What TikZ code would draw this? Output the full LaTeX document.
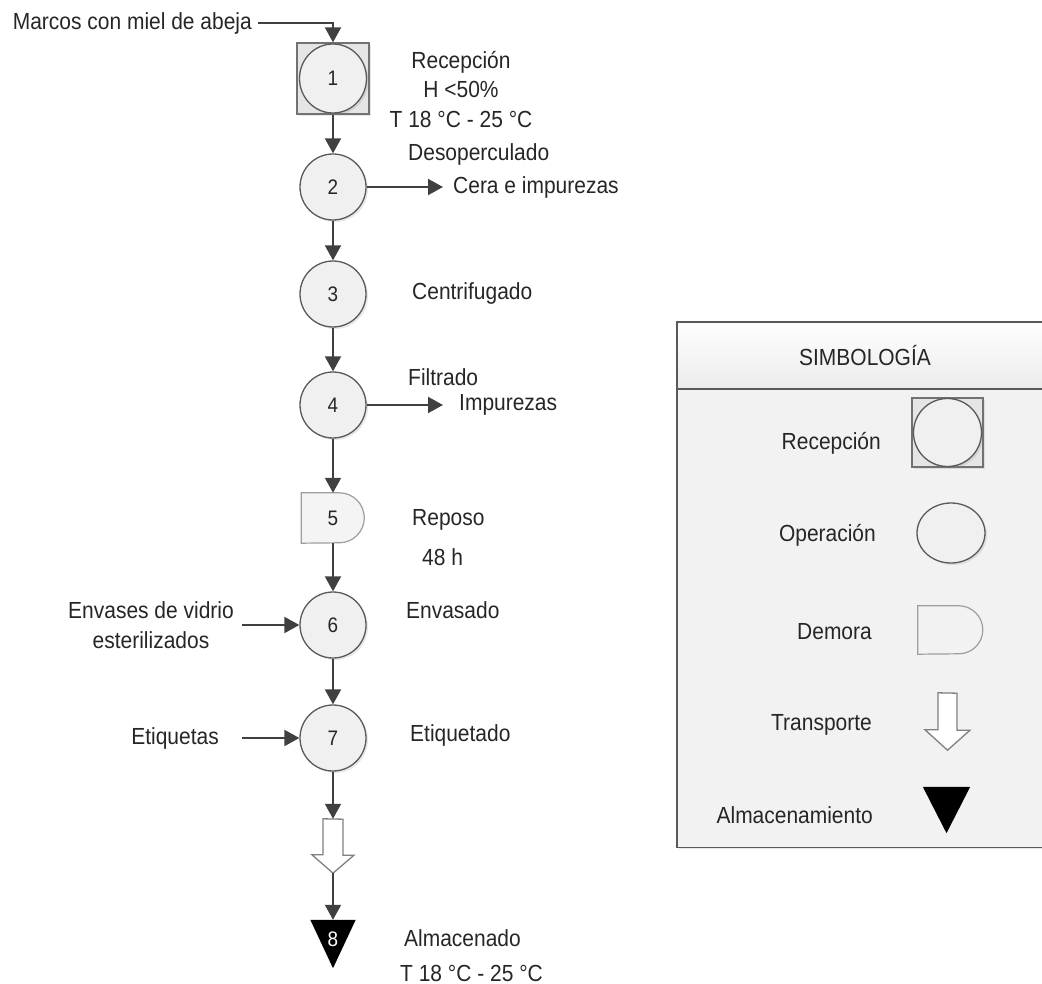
\documentclass[tikz,border=0pt]{standalone}
\usepackage{fontspec}
\setmainfont{Liberation Sans}[FakeStretch=0.9]
\usetikzlibrary{arrows.meta,shadows,shapes.geometric}
\definecolor{lc}{HTML}{404040}
\definecolor{cfill}{HTML}{F0F0F0}
\definecolor{cdraw}{HTML}{595959}
\definecolor{legbg}{HTML}{F2F2F2}
\definecolor{txt}{HTML}{262626}
\begin{document}
\begin{tikzpicture}[x=1pt,y=-1pt,
  every node/.style={font=\fontsize{23.3}{29.5}\selectfont, text=txt},
  txtn/.style={inner sep=0pt, align=center},
  numlbl/.style={inner sep=0pt, font=\fontsize{21}{24}\selectfont},
  softshadow/.style={drop shadow={shadow xshift=2pt, shadow yshift=-2pt, opacity=0.18}},
  op/.style={ellipse, draw=cdraw, line width=1.3pt, fill=cfill, minimum width=66pt, minimum height=66pt, inner sep=0pt, font=\fontsize{21}{24}\selectfont, softshadow},
  recbox/.style={rectangle, draw=cdraw!85, line width=1.3pt, fill=black!10, minimum width=72pt, minimum height=71pt, inner sep=0pt, softshadow},
  conn/.style={draw=lc, line width=2pt, -{Triangle[length=15pt,width=16pt]}},
  ghost/.style={rectangle, inner sep=0pt, draw=none, fill=none},
  demora/.style={draw=black!38, line width=1.2pt},
  transp/.style={draw=black!50, line width=1.3pt, fill=white},
  frame/.style={draw=cdraw, line width=1.3pt},
]
\useasboundingbox (0,0) rectangle (1042,984);

% ---------------- legend ----------------
\node[rectangle, fill=legbg, minimum width=390pt, minimum height=525pt, anchor=north west, inner sep=0pt, softshadow] (leg) at (677,322) {};
\coordinate (hsep) at (1067,389);
\shade[top color=white, bottom color=black!8] (leg.north west) rectangle (hsep);
\draw[frame] (leg.north east) -- (leg.north west) -- (leg.south west) -- (leg.south east);
\draw[frame] (leg.west |- hsep) -- (hsep);
\node[txtn] (legt) at (865,356) {SIMBOLOG\'IA};

\node[txtn, anchor=east] (lr) at (881,443) {Recepción};
\node[recbox, minimum width=71pt, minimum height=69pt] (lrs) at (947.5,432.5) {};
\node[op, minimum width=68pt, minimum height=68pt] (lrc) at (lrs) {};

\node[txtn, anchor=east] (lo) at (876,535) {Operación};
\node[op, minimum width=68pt, minimum height=60pt] (loc) at (951,533) {};

\node[txtn, anchor=east] (ld) at (872,632) {Demora};
\node[ghost, minimum width=65pt, minimum height=48pt] (lds) at (950.5,630) {};
\draw[demora] (lds.north west) -- ++(41,0) arc[start angle=-90,end angle=90,radius=24] -- (lds.south west) -- cycle;

\node[txtn, anchor=east] (lt) at (872,725) {Transporte};
\node[ghost, minimum width=45pt, minimum height=57pt] (lts) at (947.5,721.5) {};
\draw[transp] (lts.north) ++(-9.5,0) -- ++(0,37) -- ++(-13,0) -- (lts.south) -- ++(22.5,-20) -- ++(-13,0) -- ++(0,-37) -- cycle;

\node[txtn, anchor=east] (la) at (873,815) {Almacenamiento};
\node[ghost, minimum width=47pt, minimum height=46pt] (las) at (946.5,810) {};
\fill[black] (las.north west) -- (las.north east) -- (las.south) -- cycle;

% ---------------- process ----------------
\node[txtn, anchor=east] (marcos) at (252,23) {Marcos con miel de abeja};

\node[recbox] (s1) at (333,78.5) {};
\node[op, minimum width=67pt, minimum height=69pt] (n1) at (s1) {1};
\node[op] (n2) at (333,187) {2};
\node[op] (n3) at (333,294) {3};
\node[op] (n4) at (333,405) {4};

\node[ghost, minimum width=63pt, minimum height=50pt] (n5) at (333,518) {};
\draw[demora, fill=cfill!70!white] (n5.north west) -- ++(38,0) arc[start angle=-90,end angle=90,radius=25] -- (n5.south west) -- cycle;
\node[numlbl] (n5t) at (n5) {5};

\node[op] (n6) at (333,625) {6};
\node[op] (n7) at (333,738) {7};

\node[ghost, minimum width=42pt, minimum height=54pt] (tr) at (333,846) {};
\draw[transp] (tr.north) ++(-10,0) -- ++(0,36) -- ++(-11,0) -- (tr.south) -- ++(21,-18) -- ++(-11,0) -- ++(0,-36) -- cycle;

\node[ghost, minimum width=45pt, minimum height=48pt] (n8) at (333,944) {};
\fill[black] (n8.north west) -- (n8.north east) -- (n8.south) -- cycle;
\node[numlbl, text=white] (n8t) at (333,939) {8};

% texts
\node[txtn] (t1) at (461,89.5) {Recepción\\H <50\%\\T 18 °C - 25 °C};
\node[txtn, anchor=west] (t2) at (408,154) {Desoperculado};
\node[txtn, anchor=west] (cera) at (453,187) {Cera e impurezas};
\node[txtn, anchor=west] (t3) at (412,293) {Centrifugado};
\node[txtn, anchor=west] (t4) at (408,377) {Filtrado};
\node[txtn, anchor=west] (imp) at (459,405) {Impurezas};
\node[txtn, anchor=west] (t5a) at (412,520) {Reposo};
\node[txtn, anchor=west] (t5b) at (422,557) {48 h};
\node[txtn, anchor=west] (t6) at (406,610) {Envasado};
\node[txtn] (env) at (151,625) {Envases de vidrio\\esterilizados};
\node[txtn, anchor=east] (etq) at (219,738) {Etiquetas};
\node[txtn, anchor=west] (t7) at (410,735) {Etiquetado};
\node[txtn, anchor=west] (t8a) at (404,938) {Almacenado};
\node[txtn, anchor=west] (t8b) at (400,973) {T 18 °C - 25 °C};

% connectors
\draw[conn] (marcos.east) ++(6,0) -| (s1.north);
\draw[conn] (s1.south) -- (n2.north);
\draw[conn] (n2.south) -- (n3.north);
\draw[conn] (n3.south) -- (n4.north);
\draw[conn] (n4.south) -- (n5.north);
\draw[conn] (n5.south) -- (n6.north);
\draw[conn] (n6.south) -- (n7.north);
\draw[conn] (n7.south) -- (tr.north);
\draw[conn] (tr.south) -- (n8.north);
\draw[conn] (n2.east) -- ([xshift=-10pt]cera.west);
\draw[conn] (n4.east) -- ([xshift=-16pt]imp.west);
\draw[conn] (env.east) ++(8,0) -- (n6.west);
\draw[conn] (etq.east) ++(23,0) -- (n7.west);
\end{tikzpicture}
\end{document}
